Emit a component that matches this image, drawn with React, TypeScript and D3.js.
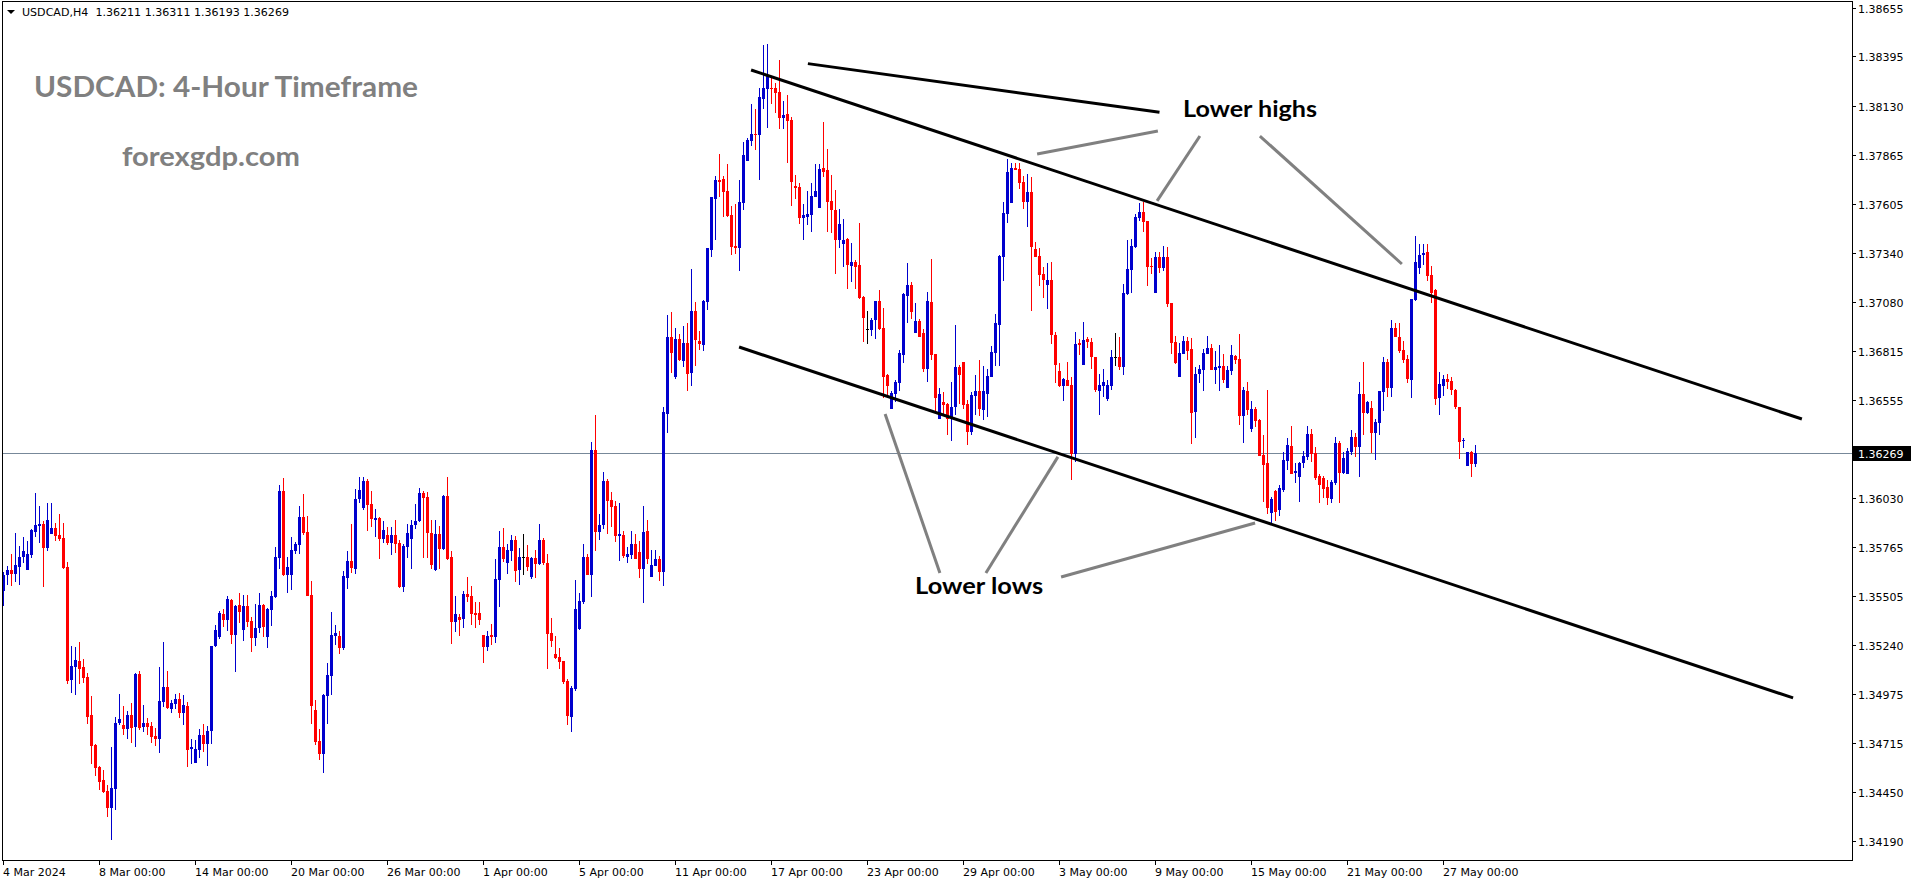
import React from "react";
import * as d3 from "d3";

// ---------- DATA (USDCAD H4) ----------
const opens = [
1.35530,1.35615,1.35642,1.35621,1.35657,1.35711,1.35642,1.35722,1.35845,1.35878,
1.35889,1.35760,1.35835,1.35867,1.35829,1.35813,1.35657,1.35052,1.35121,1.35154,
1.35121,1.35068,1.34864,1.34704,1.34585,1.34516,1.34458,1.34366,1.34468,1.34822,
1.34811,1.34790,1.34864,1.34800,1.35085,1.34800,1.34822,1.34806,1.34752,1.34736,
1.34934,1.35014,1.34897,1.34924,1.34951,1.34875,1.34913,1.34683,1.34607,1.34677,
1.34757,1.34710,1.34779,1.35235,1.35282,1.35406,1.35374,1.35481,1.35293,1.35454,
1.35320,1.35449,1.35369,1.35277,1.35331,1.35454,1.35282,1.35427,1.35497,1.35706,
1.36066,1.35615,1.35615,1.35744,1.35776,1.35925,1.35845,1.35508,1.34891,1.34726,
1.34656,1.34967,1.35074,1.35288,1.35288,1.35224,1.35599,1.35690,1.35647,1.36023,
1.35974,1.36119,1.35996,1.35910,1.35920,1.35808,1.35829,1.35787,1.35829,1.35787,
1.35550,1.35765,1.35808,1.35883,1.35905,1.36055,1.36033,1.35840,1.35642,1.35835,
1.35755,1.36039,1.35711,1.35363,1.35389,1.35379,1.35514,1.35503,1.35411,1.35411,
1.35293,1.35229,1.35293,1.35282,1.35588,1.35765,1.35679,1.35744,1.35803,1.35642,
1.35711,1.35711,1.35604,1.35706,1.35674,1.35803,1.35679,1.35304,1.35192,1.35175,
1.35154,1.35047,1.34853,1.35004,1.35326,1.35470,1.35711,1.35615,1.36285,1.35845,
1.35883,1.36119,1.36017,1.35985,1.35824,1.35829,1.35711,1.35722,1.35782,1.35738,
1.35647,1.35851,1.35604,1.35663,1.35701,1.35631,1.36478,1.36890,1.36676,1.36880,
1.36762,1.36859,1.36698,1.37030,1.36870,1.36848,1.37078,1.37357,1.37631,1.37732,
1.37738,1.37674,1.37544,1.37379,1.37368,1.37609,1.37834,1.37942,1.37979,1.37973,
1.38167,1.38220,1.38225,1.38225,1.38204,1.38064,1.38086,1.38054,1.37700,1.37694,
1.37528,1.37533,1.37544,1.37641,1.37582,1.37796,1.37786,1.37620,1.37571,1.37411,
1.37390,1.37416,1.37271,1.37292,1.37276,1.37105,1.36934,1.36928,1.36982,1.37084,
1.36939,1.36687,1.36505,1.36586,1.36644,1.36794,1.37111,1.37169,1.36912,1.36977,
1.36912,1.36719,1.37078,1.36800,1.36451,1.36542,1.36532,1.36461,1.36515,1.36729,
1.36756,1.36532,1.36381,1.36575,1.36602,1.36499,1.36586,1.36676,1.36805,1.36955,
1.37319,1.37550,1.37609,1.37796,1.37791,1.37721,1.37614,1.37668,1.37363,1.37325,
1.37229,1.37169,1.37196,1.36901,1.36709,1.36628,1.36660,1.36633,1.36264,1.36859,
1.36740,1.36880,1.36864,1.36783,1.36602,1.36628,1.36559,1.36628,1.36783,1.36783,
1.36729,1.37122,1.37250,1.37373,1.37528,1.37560,1.37513,1.37271,1.37127,1.37319,
1.37260,1.37319,1.37073,1.36864,1.36676,1.36800,1.36870,1.36827,1.36488,1.36693,
1.36714,1.36800,1.36832,1.36714,1.36724,1.36735,1.36617,1.36709,1.36789,1.36773,
1.36467,1.36602,1.36398,1.36505,1.36446,1.36258,1.36215,1.35947,1.36066,1.35963,
1.36071,1.36226,1.36307,1.36162,1.36140,1.36215,1.36247,1.36371,1.36269,1.36146,
1.36135,1.36086,1.36023,1.36108,1.36323,1.36162,1.36157,1.36274,1.36354,1.36301,
1.36586,1.36483,1.36510,1.36376,1.36430,1.36596,1.36756,1.36617,1.36939,1.36890,
1.36821,1.36773,1.36660,1.37089,1.37260,1.37330,1.37346,1.37223,1.37143,1.36564,
1.36628,1.36666,1.36655,1.36607,1.36515,1.36334,1.36199,1.36274,1.36211];

const highs = [
1.35631,1.35663,1.35728,1.35840,1.35771,1.35818,1.35798,1.35862,1.36055,1.35985,
1.35905,1.36001,1.36001,1.35894,1.35942,1.35894,1.35684,1.35235,1.35229,1.35256,
1.35165,1.35090,1.34967,1.34710,1.34591,1.34570,1.34489,1.34693,1.34853,1.34978,
1.34913,1.34886,1.34929,1.35090,1.35101,1.34918,1.34848,1.34827,1.34795,1.35121,
1.35256,1.35101,1.34945,1.34978,1.34983,1.34972,1.34934,1.34736,1.34731,1.34790,
1.34817,1.34806,1.35235,1.35347,1.35422,1.35433,1.35503,1.35487,1.35454,1.35519,
1.35508,1.35508,1.35389,1.35460,1.35519,1.35460,1.35438,1.35530,1.35765,1.36097,
1.36135,1.35711,1.35818,1.35792,1.35985,1.36050,1.35931,1.35583,1.34945,1.34790,
1.34978,1.35143,1.35416,1.35347,1.35315,1.35637,1.35744,1.35889,1.36076,1.36140,
1.36140,1.36130,1.36066,1.35969,1.35925,1.35905,1.35872,1.35872,1.35910,1.35803,
1.35782,1.35889,1.35910,1.35996,1.36081,1.36066,1.36060,1.35910,1.35910,1.35878,
1.36044,1.36140,1.35744,1.35503,1.35406,1.35530,1.35604,1.35556,1.35470,1.35470,
1.35293,1.35315,1.35353,1.35701,1.35851,1.35867,1.35782,1.35829,1.35824,1.35760,
1.35835,1.35776,1.35711,1.35749,1.35889,1.35813,1.35728,1.35384,1.35288,1.35224,
1.35154,1.35058,1.35020,1.35588,1.35519,1.35782,1.35728,1.36328,1.36472,1.35942,
1.36167,1.36130,1.36060,1.36012,1.36001,1.35851,1.35765,1.35851,1.35835,1.35798,
1.35985,1.35910,1.35749,1.35749,1.35717,1.36515,1.37008,1.37024,1.36939,1.36907,
1.36950,1.36966,1.37255,1.37078,1.36923,1.37089,1.37368,1.37641,1.37754,1.37872,
1.37754,1.37818,1.37593,1.37604,1.37732,1.37936,1.37957,1.38140,1.38113,1.38225,
1.38456,1.38462,1.38284,1.38252,1.38375,1.38156,1.38188,1.38069,1.37759,1.37716,
1.37604,1.37674,1.37716,1.37818,1.37818,1.38043,1.37899,1.37759,1.37679,1.37577,
1.37523,1.37421,1.37395,1.37303,1.37502,1.37111,1.37030,1.36992,1.37084,1.37143,
1.37046,1.36693,1.36602,1.36660,1.36821,1.37127,1.37287,1.37185,1.37073,1.36987,
1.36934,1.37132,1.37309,1.36800,1.36617,1.36596,1.36537,1.36649,1.36955,1.36740,
1.36756,1.36553,1.36596,1.36687,1.36767,1.36735,1.36719,1.36843,1.37014,1.37330,
1.37614,1.37845,1.37823,1.37823,1.37823,1.37754,1.37765,1.37748,1.37400,1.37368,
1.37265,1.37287,1.37292,1.36917,1.36751,1.36671,1.36756,1.36676,1.36917,1.36880,
1.36971,1.36890,1.36885,1.36783,1.36693,1.36719,1.36660,1.36821,1.36912,1.36890,
1.37175,1.37411,1.37416,1.37550,1.37609,1.37614,1.37513,1.37314,1.37346,1.37346,
1.37379,1.37373,1.37073,1.36896,1.36859,1.36896,1.36890,1.36885,1.36729,1.36740,
1.36827,1.36896,1.36854,1.36816,1.36848,1.36800,1.36735,1.36848,1.36794,1.36907,
1.36622,1.36649,1.36548,1.36515,1.36451,1.36365,1.36607,1.36033,1.36071,1.36097,
1.36274,1.36349,1.36414,1.36215,1.36220,1.36280,1.36414,1.36398,1.36301,1.36157,
1.36146,1.36124,1.36124,1.36354,1.36334,1.36274,1.36296,1.36392,1.36376,1.36649,
1.36756,1.36548,1.36548,1.36451,1.36602,1.36783,1.36773,1.36982,1.36966,1.36966,
1.36870,1.36794,1.37095,1.37432,1.37390,1.37390,1.37390,1.37271,1.37148,1.36703,
1.36687,1.36693,1.36676,1.36612,1.36515,1.36349,1.36274,1.36280,1.36311];

const lows = [
1.35449,1.35561,1.35556,1.35577,1.35561,1.35679,1.35642,1.35706,1.35818,1.35787,
1.35550,1.35744,1.35835,1.35798,1.35798,1.35647,1.35031,1.34983,1.34972,1.35031,
1.35036,1.34817,1.34602,1.34538,1.34463,1.34447,1.34317,1.34195,1.34355,1.34811,
1.34757,1.34736,1.34715,1.34693,1.34784,1.34773,1.34757,1.34715,1.34699,1.34661,
1.34907,1.34897,1.34875,1.34897,1.34848,1.34811,1.34585,1.34602,1.34607,1.34634,
1.34666,1.34591,1.34710,1.35229,1.35272,1.35336,1.35315,1.35246,1.35095,1.35358,
1.35262,1.35336,1.35202,1.35235,1.35304,1.35282,1.35224,1.35342,1.35492,1.35647,
1.35610,1.35519,1.35535,1.35728,1.35728,1.35829,1.35503,1.34817,1.34704,1.34623,
1.34554,1.34817,1.34972,1.35240,1.35192,1.35213,1.35540,1.35626,1.35621,1.36001,
1.35963,1.35851,1.35872,1.35818,1.35701,1.35787,1.35776,1.35722,1.35733,1.35545,
1.35524,1.35706,1.35647,1.35862,1.35899,1.35706,1.35706,1.35647,1.35637,1.35647,
1.35749,1.35695,1.35246,1.35309,1.35288,1.35331,1.35470,1.35347,1.35331,1.35347,
1.35143,1.35208,1.35240,1.35251,1.35443,1.35684,1.35621,1.35690,1.35577,1.35561,
1.35615,1.35637,1.35594,1.35599,1.35668,1.35668,1.35111,1.35229,1.35165,1.35111,
1.35031,1.34811,1.34773,1.34994,1.35320,1.35460,1.35615,1.35497,1.35744,1.35803,
1.35862,1.35835,1.35872,1.35792,1.35690,1.35706,1.35679,1.35701,1.35701,1.35599,
1.35465,1.35674,1.35604,1.35663,1.35583,1.35556,1.36376,1.36698,1.36666,1.36762,
1.36729,1.36602,1.36628,1.36735,1.36821,1.36816,1.37035,1.37319,1.37411,1.37641,
1.37533,1.37533,1.37330,1.37336,1.37245,1.37571,1.37834,1.37915,1.37893,1.37732,
1.38113,1.38011,1.38140,1.38091,1.38006,1.38006,1.37823,1.37593,1.37631,1.37497,
1.37411,1.37491,1.37453,1.37641,1.37582,1.37748,1.37453,1.37448,1.37229,1.37368,
1.37265,1.37148,1.37185,1.37148,1.37095,1.36864,1.36854,1.36896,1.36880,1.36928,
1.36564,1.36580,1.36505,1.36542,1.36602,1.36751,1.36966,1.36987,1.36912,1.36890,
1.36703,1.36649,1.36767,1.36483,1.36451,1.36478,1.36365,1.36334,1.36472,1.36532,
1.36505,1.36312,1.36365,1.36472,1.36467,1.36446,1.36461,1.36676,1.36735,1.36735,
1.37191,1.37502,1.37609,1.37786,1.37684,1.37577,1.37480,1.37030,1.37319,1.37164,
1.37100,1.37041,1.36854,1.36644,1.36622,1.36548,1.36628,1.36124,1.36220,1.36794,
1.36740,1.36832,1.36719,1.36596,1.36472,1.36569,1.36548,1.36607,1.36735,1.36714,
1.36687,1.37116,1.37127,1.37368,1.37513,1.37453,1.37164,1.37229,1.37127,1.37234,
1.37245,1.37051,1.36800,1.36746,1.36676,1.36800,1.36767,1.36318,1.36349,1.36644,
1.36602,1.36800,1.36714,1.36639,1.36602,1.36644,1.36617,1.36687,1.36746,1.36419,
1.36323,1.36472,1.36381,1.36408,1.36253,1.36006,1.35942,1.35894,1.35905,1.35931,
1.36060,1.36178,1.36157,1.36108,1.36006,1.36189,1.36231,1.36220,1.36124,1.36001,
1.36028,1.35990,1.36001,1.36097,1.36001,1.36157,1.36157,1.36258,1.36247,1.36140,
1.36365,1.36478,1.36269,1.36231,1.36365,1.36494,1.36569,1.36569,1.36890,1.36805,
1.36751,1.36644,1.36564,1.37084,1.37229,1.37276,1.37191,1.37073,1.36526,1.36472,
1.36575,1.36612,1.36580,1.36505,1.36237,1.36296,1.36199,1.36140,1.36193];

const closes = [
1.35615,1.35642,1.35621,1.35668,1.35711,1.35744,1.35728,1.35856,1.35883,1.35889,
1.35760,1.35910,1.35867,1.35824,1.35808,1.35652,1.35047,1.35127,1.35159,1.35111,
1.35063,1.34853,1.34699,1.34580,1.34505,1.34452,1.34366,1.34473,1.34822,1.34843,
1.34790,1.34864,1.34795,1.35085,1.34795,1.34822,1.34800,1.34746,1.34736,1.34940,
1.35014,1.34902,1.34929,1.34951,1.34875,1.34918,1.34677,1.34693,1.34683,1.34757,
1.34710,1.34779,1.35235,1.35320,1.35411,1.35374,1.35487,1.35293,1.35449,1.35416,
1.35449,1.35363,1.35277,1.35331,1.35454,1.35336,1.35433,1.35503,1.35711,1.36066,
1.35615,1.35657,1.35749,1.35782,1.35925,1.35840,1.35503,1.34913,1.34720,1.34656,
1.34972,1.35079,1.35293,1.35304,1.35224,1.35610,1.35690,1.35652,1.36023,1.36071,
1.36119,1.35990,1.35915,1.35920,1.35808,1.35856,1.35787,1.35829,1.35782,1.35550,
1.35771,1.35840,1.35883,1.35905,1.36055,1.36028,1.35840,1.35668,1.35835,1.35755,
1.36039,1.35701,1.35363,1.35406,1.35374,1.35514,1.35497,1.35406,1.35400,1.35374,
1.35229,1.35288,1.35282,1.35594,1.35765,1.35701,1.35749,1.35803,1.35637,1.35711,
1.35711,1.35657,1.35706,1.35674,1.35803,1.35679,1.35299,1.35262,1.35170,1.35148,
1.35041,1.34859,1.35009,1.35433,1.35476,1.35711,1.35615,1.36285,1.35845,1.35883,
1.36119,1.36012,1.35979,1.35824,1.35835,1.35717,1.35728,1.35782,1.35701,1.35647,
1.35845,1.35701,1.35668,1.35701,1.35631,1.36488,1.36890,1.36805,1.36880,1.36767,
1.36859,1.36693,1.37030,1.36875,1.36854,1.37084,1.37368,1.37641,1.37732,1.37721,
1.37668,1.37539,1.37373,1.37368,1.37614,1.37866,1.37947,1.37979,1.37973,1.38177,
1.38225,1.38290,1.38220,1.38199,1.38064,1.38080,1.38049,1.37721,1.37689,1.37528,
1.37544,1.37550,1.37647,1.37674,1.37791,1.37775,1.37614,1.37571,1.37411,1.37497,
1.37411,1.37276,1.37292,1.37265,1.37100,1.36992,1.36934,1.36982,1.37084,1.36934,
1.36676,1.36628,1.36591,1.36649,1.36805,1.37122,1.37169,1.37024,1.36977,1.36890,
1.36719,1.37084,1.36794,1.36564,1.36586,1.36526,1.36451,1.36515,1.36729,1.36687,
1.36526,1.36381,1.36580,1.36602,1.36505,1.36602,1.36682,1.36810,1.36966,1.37325,
1.37555,1.37775,1.37796,1.37786,1.37716,1.37614,1.37668,1.37373,1.37319,1.37223,
1.37196,1.37196,1.36901,1.36740,1.36628,1.36666,1.36628,1.36264,1.36854,1.36848,
1.36875,1.36864,1.36783,1.36607,1.36633,1.36649,1.36633,1.36783,1.36783,1.36729,
1.37127,1.37255,1.37379,1.37533,1.37560,1.37507,1.37265,1.37265,1.37319,1.37260,
1.37319,1.37068,1.36859,1.36751,1.36805,1.36870,1.36816,1.36483,1.36693,1.36719,
1.36805,1.36832,1.36714,1.36729,1.36735,1.36660,1.36714,1.36794,1.36767,1.36467,
1.36607,1.36499,1.36505,1.36441,1.36253,1.36204,1.35974,1.36023,1.35952,1.36081,
1.36231,1.36312,1.36157,1.36173,1.36215,1.36253,1.36371,1.36264,1.36135,1.36097,
1.36076,1.36028,1.36113,1.36323,1.36162,1.36242,1.36280,1.36354,1.36301,1.36586,
1.36483,1.36542,1.36376,1.36435,1.36602,1.36756,1.36617,1.36939,1.36890,1.36816,
1.36767,1.36666,1.37095,1.37292,1.37330,1.37341,1.37218,1.37127,1.36559,1.36639,
1.36666,1.36649,1.36607,1.36515,1.36328,1.36339,1.36274,1.36210,1.36269];

const priceTicks = [1.38655, 1.38395, 1.38130, 1.37865, 1.37605, 1.37340, 1.37080, 1.36815,
  1.36555, 1.36290, 1.36030, 1.35765, 1.35505, 1.35240, 1.34975, 1.34715, 1.34450, 1.34190];
const timeTickBars = [0, 24, 48, 72, 96, 120, 144, 168, 192, 216, 240, 264, 288, 312, 336, 360];
const timeTickLabels = ["4 Mar 2024", "8 Mar 00:00", "14 Mar 00:00", "20 Mar 00:00", "26 Mar 00:00",
  "1 Apr 00:00", "5 Apr 00:00", "11 Apr 00:00", "17 Apr 00:00", "23 Apr 00:00", "29 Apr 00:00",
  "3 May 00:00", "9 May 00:00", "15 May 00:00", "21 May 00:00", "27 May 00:00"];
const headerText = "USDCAD,H4  1.36211 1.36311 1.36193 1.36269";
const bidPrice = 1.36269;

// drawn objects, in (bar index, price)
const blackLines = [
  [[186.9, 1.38322], [449.6, 1.36451]],
  [[183.9, 1.36837], [447.4, 1.34956]],
  [[201.1, 1.38356], [289.0, 1.38095]],
];
const grayLines = [
  [[258.4, 1.37872], [288.6, 1.37995]],
  [[288.4, 1.37620], [299.1, 1.37968]],
  [[314.1, 1.37968], [349.6, 1.37282]],
  [[220.4, 1.36478], [234.1, 1.35626]],
  [[263.6, 1.36248], [245.6, 1.35626]],
  [[264.4, 1.35604], [312.9, 1.35894]],
];
const labelTexts = ["Lower highs", "Lower lows"];
const labelAnchors = [[294.9, 1.38070], [227.9, 1.35513]];
const labelWidths = [134, 128];

const BULL = "#0000CD";
const BEAR = "#FF0000";

export default function App() {
  const W = 1916, H = 884;
  const x = d3.scaleLinear().domain([0, 368]).range([3.5, 1475.5]);
  const y = d3.scaleLinear().domain([1.3419, 1.38655]).range([840.86, 7.84]);
  const fmt = d3.format(".5f");

  const candles = opens.map((o, i) => {
    const c = closes[i], h = highs[i], l = lows[i];
    const cx = x(i);
    const yo = y(o), yc = y(c);
    const top = Math.round(Math.min(yo, yc));
    const bot = Math.round(Math.max(yo, yc));
    const yh = Math.round(y(h)), yl = Math.round(y(l));
    const col = c > o ? BULL : c < o ? BEAR : "#000000";
    return (
      <g key={i} fill={col}>
        <rect x={cx - 0.5} y={yh} width={1} height={Math.max(1, yl - yh)} />
        <rect x={cx - 1.5} y={top} width={3} height={Math.max(1, bot - top)} />
      </g>
    );
  });

  const bidY = Math.round(y(bidPrice)) + 0.5;
  const axisFont = "'DejaVu Sans', Verdana, sans-serif";

  return (
    <svg width={W} height={H} style={{ position: "absolute", left: 0, top: 0, background: "#fff" }}
      xmlns="http://www.w3.org/2000/svg">
      <rect x={0} y={0} width={W} height={H} fill="#ffffff" />
      {/* bid line */}
      <line x1={2} x2={1852} y1={bidY} y2={bidY} stroke="#778899" strokeWidth={1} />
      {/* candles */}
      <g shapeRendering="crispEdges">{candles}</g>
      {/* trend lines */}
      {blackLines.map((ln, i) => (
        <line key={"b" + i} x1={x(ln[0][0])} y1={y(ln[0][1])} x2={x(ln[1][0])} y2={y(ln[1][1])}
          stroke="#000" strokeWidth={3} />
      ))}
      {grayLines.map((ln, i) => (
        <line key={"g" + i} x1={x(ln[0][0])} y1={y(ln[0][1])} x2={x(ln[1][0])} y2={y(ln[1][1])}
          stroke="#808080" strokeWidth={3} />
      ))}
      {labelTexts.map((t, i) => (
        <text key={"l" + i} x={x(labelAnchors[i][0])} y={y(labelAnchors[i][1])}
          fontFamily="Lato, 'Open Sans', sans-serif" fontWeight={700} fontSize={23} fill="#000"
          textLength={labelWidths[i]} lengthAdjust="spacingAndGlyphs">{t}</text>
      ))}
      {/* watermark texts */}
      <text x={34} y={97} fontFamily="Lato, 'Open Sans', sans-serif" fontWeight={700} fontSize={29}
        fill="#808080" textLength={384} lengthAdjust="spacingAndGlyphs">USDCAD: 4-Hour Timeframe</text>
      <text x={122} y={166} fontFamily="Lato, 'Open Sans', sans-serif" fontWeight={700} fontSize={27}
        fill="#808080" textLength={178} lengthAdjust="spacingAndGlyphs">forexgdp.com</text>
      {/* header */}
      <polygon points="7,10 15,10 11,14" fill="#000" />
      <text x={22} y={16} fontFamily={axisFont} fontSize={11} fill="#000"
        textLength={267} lengthAdjust="spacingAndGlyphs" style={{ whiteSpace: "pre" }}>{headerText}</text>
      {/* frame */}
      <rect x={2.5} y={1.5} width={1850} height={859} fill="none" stroke="#000" strokeWidth={1}
        shapeRendering="crispEdges" />
      {/* price axis */}
      <g fontFamily={axisFont} fontSize={11} fill="#000">
        {priceTicks.map((v, i) => {
          const py = Math.round(y(v)) + 0.5;
          const hidden = Math.abs(y(v) - y(bidPrice)) < 8;
          return (
            <g key={"p" + i}>
              <line x1={1852} x2={1856} y1={py} y2={py} stroke="#000" shapeRendering="crispEdges" />
              {!hidden && <text x={1858} y={py + 4}>{fmt(v)}</text>}
            </g>
          );
        })}
      </g>
      <rect x={1853} y={Math.round(y(bidPrice)) - 7} width={58} height={15} fill="#000" />
      <text x={1858} y={Math.round(y(bidPrice)) + 4.5} fontFamily={axisFont} fontSize={11} fill="#fff">
        {fmt(bidPrice)}</text>
      {/* time axis */}
      <g fontFamily={axisFont} fontSize={11} fill="#000">
        {timeTickBars.map((b, i) => {
          const tx = Math.floor(x(b)) + 0.5;
          return (
            <g key={"t" + i}>
              <line x1={tx} x2={tx} y1={861} y2={865} stroke="#000" shapeRendering="crispEdges" />
              <text x={tx - 0.5} y={876}>{timeTickLabels[i]}</text>
            </g>
          );
        })}
      </g>
    </svg>
  );
}
